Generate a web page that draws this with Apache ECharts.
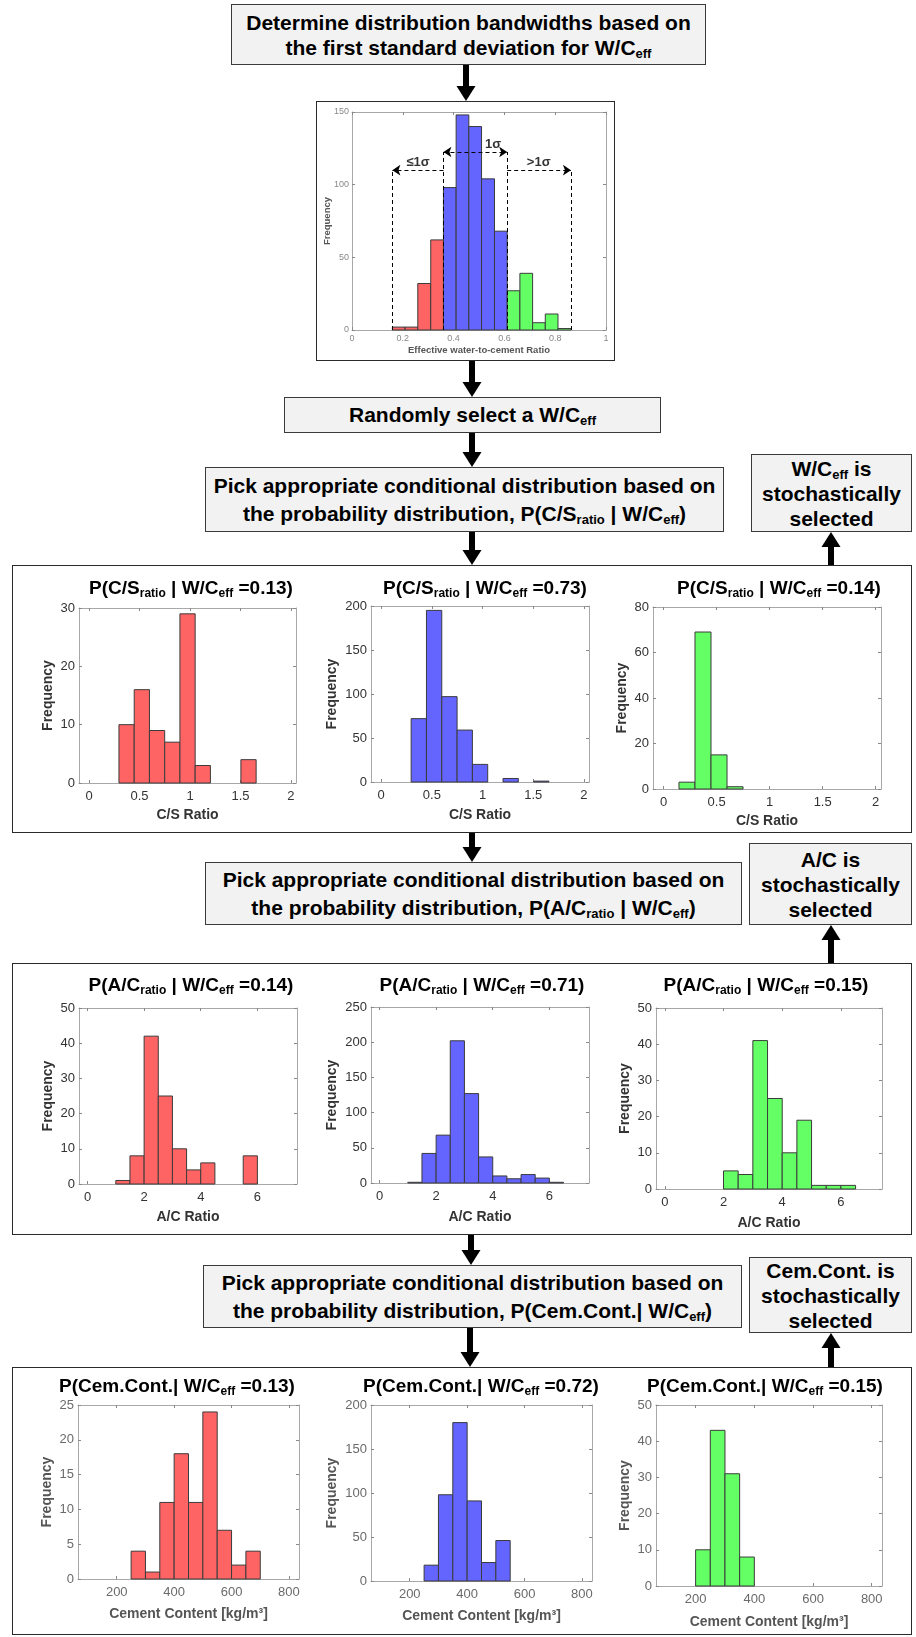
<!DOCTYPE html>
<html lang="en">
<head>
<meta charset="UTF-8">
<title>Conditional distribution sampling</title>
<script src="https://cdn.jsdelivr.net/npm/echarts@6.0.0/dist/echarts.min.js"></script>
<style>
  body { margin: 0; background: #fff; font-family: "Liberation Sans", Arial, sans-serif; }
  .page { position: relative; width: 916px; height: 1637px; overflow: hidden; }
  .box { position: absolute; box-sizing: border-box; background: #f2f2f2; border: 1.5px solid #3a3a3a;
         display: flex; flex-direction: column; align-items: center; justify-content: center;
         font-weight: bold; font-size: 21px; color: #000; text-align: center; white-space: nowrap; }
  .box sub { font-size: 13px; vertical-align: -3px; line-height: 0; }
  .panel { position: absolute; box-sizing: border-box; background: #fff; border: 1.5px solid #2a2a2a; }
  .ttl { position: absolute; width: 320px; text-align: center; font-weight: bold; font-size: 19px;
         line-height: 22px; white-space: nowrap; z-index: 3; color: #000; }
  .ttl sub { font-size: 12px; vertical-align: -3px; line-height: 0; }
  #chart { position: absolute; left: 0; top: 0; width: 916px; height: 1637px; z-index: 2; }
  #arrows { position: absolute; left: 0; top: 0; z-index: 1; }
</style>
</head>
<body>
<div class="page">
  <!-- flow boxes -->
  <div class="box" style="left:231px;top:4px;width:475px;height:61px;line-height:25px;">
    <div>Determine distribution bandwidths based on</div>
    <div>the first standard deviation for W/C<sub>eff</sub></div>
  </div>
  <div class="panel" style="left:316px;top:101px;width:299px;height:260px;"></div>

  <div class="box" style="left:284px;top:397px;width:377px;height:36px;">
    <div>Randomly select a W/C<sub>eff</sub></div>
  </div>

  <div class="box" style="left:205px;top:467px;width:519px;height:65px;line-height:28px;">
    <div>Pick appropriate conditional distribution based on</div>
    <div>the probability distribution, P(C/S<sub>ratio</sub> | W/C<sub>eff</sub>)</div>
  </div>
  <div class="box" style="left:751px;top:454px;width:161px;height:78px;line-height:25px;">
    <div>W/C<sub>eff</sub> is</div><div>stochastically</div><div>selected</div>
  </div>
  <div class="panel" style="left:12px;top:565px;width:900px;height:268px;"></div>

  <div class="box" style="left:205px;top:862px;width:537px;height:63px;line-height:28px;">
    <div>Pick appropriate conditional distribution based on</div>
    <div>the probability distribution, P(A/C<sub>ratio</sub> | W/C<sub>eff</sub>)</div>
  </div>
  <div class="box" style="left:749px;top:843px;width:163px;height:82px;line-height:25px;">
    <div>A/C is</div><div>stochastically</div><div>selected</div>
  </div>
  <div class="panel" style="left:12px;top:963px;width:900px;height:272px;"></div>

  <div class="box" style="left:203px;top:1265px;width:539px;height:63px;line-height:28px;">
    <div>Pick appropriate conditional distribution based on</div>
    <div>the probability distribution, P(Cem.Cont.| W/C<sub>eff</sub>)</div>
  </div>
  <div class="box" style="left:749px;top:1257px;width:163px;height:76px;line-height:25px;">
    <div>Cem.Cont. is</div><div>stochastically</div><div>selected</div>
  </div>
  <div class="panel" style="left:12px;top:1367px;width:900px;height:268px;"></div>

  <!-- histogram titles -->
  <div class="ttl" style="left:31px;top:577px;">P(C/S<sub>ratio</sub> | W/C<sub>eff</sub> =0.13)</div>
  <div class="ttl" style="left:325px;top:577px;">P(C/S<sub>ratio</sub> | W/C<sub>eff</sub> =0.73)</div>
  <div class="ttl" style="left:619px;top:577px;">P(C/S<sub>ratio</sub> | W/C<sub>eff</sub> =0.14)</div>
  <div class="ttl" style="left:31px;top:974px;">P(A/C<sub>ratio</sub> | W/C<sub>eff</sub> =0.14)</div>
  <div class="ttl" style="left:322px;top:974px;">P(A/C<sub>ratio</sub> | W/C<sub>eff</sub> =0.71)</div>
  <div class="ttl" style="left:606px;top:974px;">P(A/C<sub>ratio</sub> | W/C<sub>eff</sub> =0.15)</div>
  <div class="ttl" style="left:17px;top:1375px;">P(Cem.Cont.| W/C<sub>eff</sub> =0.13)</div>
  <div class="ttl" style="left:321px;top:1375px;">P(Cem.Cont.| W/C<sub>eff</sub> =0.72)</div>
  <div class="ttl" style="left:605px;top:1375px;">P(Cem.Cont.| W/C<sub>eff</sub> =0.15)</div>

  <svg id="arrows" width="916" height="1637"></svg>
  <div id="chart"></div>
</div>
<script>
  // ---- data ----
  // effective water-to-cement ratio, all samples
  const wcEdges = [0.159, 0.209, 0.259, 0.310, 0.360, 0.410, 0.460, 0.510, 0.561, 0.611, 0.661, 0.711, 0.761, 0.811, 0.862];
  const wcCounts = [2, 2, 32, 62, 98, 148, 140, 104, 68, 27, 39, 5, 11, 1];
  const wcTicks = [0, 0.2, 0.4, 0.6, 0.8, 1];
  const sigmaEdges = [0.159, 0.360, 0.611, 0.862];
  const sigmaNames = ['≤1σ', '1σ', '>1σ'];

  // C/S ratio given W/C_eff = 0.13 / 0.73 / 0.14
  const csEdges = [0.145, 0.296, 0.447, 0.598, 0.749, 0.900, 1.051, 1.202, 1.353, 1.504, 1.655];
  const csLow = [0, 10, 16, 9, 7, 29, 3, 0, 0, 4];
  const csMid = [0, 72, 195, 97, 59, 20, 0, 4, 0, 1];
  const csHigh = [3, 69, 15, 1, 0, 0, 0, 0, 0, 0];
  const csTicks = [0, 0.5, 1, 1.5, 2];

  // A/C ratio given W/C_eff = 0.14 / 0.71 / 0.15
  const acEdges = [1.0, 1.5, 2.0, 2.5, 3.0, 3.5, 4.0, 4.5, 5.0, 5.5, 6.0, 6.5];
  const acLow = [1, 8, 42, 25, 10, 4, 6, 0, 0, 8, 0];
  const acMid = [1, 42, 68, 202, 127, 37, 10, 6, 12, 7, 1];
  const acHigh = [0, 0, 5, 4, 41, 25, 10, 19, 1, 1, 1];
  const acTicks = [0, 2, 4, 6];

  // cement content given W/C_eff = 0.13 / 0.72 / 0.15
  const cemEdges = [200, 250, 300, 350, 400, 450, 500, 550, 600, 650, 700];
  const cemLow = [0, 4, 1, 11, 18, 11, 24, 7, 2, 4];
  const cemMid = [0, 18, 98, 180, 91, 21, 46, 0, 0, 0];
  const cemHigh = [10, 43, 31, 8, 0, 0, 0, 0, 0, 0];
  const cemTicks = [200, 400, 600, 800];

  const RED = '#ff6464', BLUE = '#6464ff', GREEN = '#64ff64';
  const FONT = '"Liberation Sans", Arial, sans-serif';

  // ---- flow arrows (x, from y, to y) ----
  const arrows = [
    [466, 65, 101], [472, 361, 397], [472, 433, 467], [472, 532, 565], [831, 565, 532],
    [472, 833, 862], [831, 963, 925], [471, 1235, 1265], [831, 1367, 1333], [470, 1328, 1367]
  ];
  const svg = document.getElementById('arrows');
  let s = '';
  arrows.forEach(([x, y0, y1]) => {
    const dir = y1 > y0 ? 1 : -1;
    const base = y1 - dir * 15;
    s += `<rect x="${x - 3}" y="${Math.min(y0, base)}" width="6" height="${Math.abs(base - y0)}" fill="#000"/>`;
    s += `<polygon points="${x - 9.5},${base} ${x + 9.5},${base} ${x},${y1}" fill="#000"/>`;
  });
  svg.innerHTML = s;

  // ---- chart layout: grid [left, top, width, height] ----
  const layout = [
    { g: [352, 112, 254, 218], x: [0, 1], ticks: wcTicks, y: [150, 50], xName: 'Effective water-to-cement Ratio', yGap: 20, xGap: 15, small: true },
    { g: [79, 608, 217, 175], x: [-0.1, 2.05], ticks: csTicks, y: [30, 10], xName: 'C/S Ratio', yGap: 24, xGap: 25 },
    { g: [371, 606, 218, 176], x: [-0.1, 2.05], ticks: csTicks, y: [200, 50], xName: 'C/S Ratio', yGap: 32, xGap: 26 },
    { g: [653, 607, 228, 182], x: [-0.1, 2.05], ticks: csTicks, y: [80, 20], xName: 'C/S Ratio', yGap: 24, xGap: 25 },
    { g: [79, 1008, 218, 176], x: [-0.3, 7.4], ticks: acTicks, y: [50, 10], xName: 'A/C Ratio', yGap: 24, xGap: 26 },
    { g: [371, 1007, 218, 176], x: [-0.3, 7.4], ticks: acTicks, y: [250, 50], xName: 'A/C Ratio', yGap: 32, xGap: 27 },
    { g: [656, 1008, 226, 181], x: [-0.3, 7.4], ticks: acTicks, y: [50, 10], xName: 'A/C Ratio', yGap: 24, xGap: 27 },
    { g: [78, 1405, 221, 174], x: [65, 835], ticks: cemTicks, y: [25, 5], xName: 'Cement Content [kg/m³]', yGap: 24, xGap: 28, light: true },
    { g: [371, 1405, 221, 176], x: [65, 835], ticks: cemTicks, y: [200, 50], xName: 'Cement Content [kg/m³]', yGap: 32, xGap: 28, light: true },
    { g: [656, 1405, 226, 181], x: [65, 835], ticks: cemTicks, y: [50, 10], xName: 'Cement Content [kg/m³]', yGap: 24, xGap: 29, light: true }
  ];

  const grid = [], xAxis = [], yAxis = [], series = [];
  layout.forEach((p, i) => {
    const labSize = p.small ? 9 : 13;
    const labColor = p.small ? '#888' : (p.light ? '#6a6a6a' : '#333');
    const nameStyle = { fontFamily: FONT, fontWeight: 'bold', fontSize: p.small ? 9.5 : 14, color: p.small ? '#555' : (p.light ? '#555' : '#333') };
    const line = { show: true, onZero: false, lineStyle: { color: '#a8a8a8', width: 1 } };
    const tick = { show: true, inside: true, length: 3, lineStyle: { color: '#888' } };
    grid.push({ left: p.g[0], top: p.g[1], width: p.g[2], height: p.g[3], outerBoundsMode: 'none' });
    const xBase = { type: 'value', gridIndex: i, min: p.x[0], max: p.x[1], splitLine: { show: false }, axisLine: line };
    xAxis.push(Object.assign({}, xBase, {
      position: 'bottom', name: p.xName, nameLocation: 'middle', nameGap: p.xGap, nameTextStyle: nameStyle, nameMoveOverlap: false,
      axisTick: Object.assign({ customValues: p.ticks }, tick),
      axisLabel: { customValues: p.ticks, fontFamily: FONT, fontSize: labSize, color: labColor, margin: p.small ? 4 : 7 }
    }));
    xAxis.push(Object.assign({}, xBase, {
      position: 'top', axisTick: Object.assign({ customValues: p.ticks }, tick), axisLabel: { show: false }
    }));
    const yBase = { type: 'value', gridIndex: i, min: 0, max: p.y[0], interval: p.y[1], splitLine: { show: false }, axisLine: line, axisTick: tick };
    yAxis.push(Object.assign({}, yBase, {
      position: 'left', name: 'Frequency', nameLocation: 'middle', nameGap: p.yGap, nameRotate: 90, nameTextStyle: nameStyle, nameMoveOverlap: false,
      axisLabel: { fontFamily: FONT, fontSize: labSize, color: labColor, margin: p.small ? 3 : 4 }
    }));
    yAxis.push(Object.assign({}, yBase, { position: 'right', axisLabel: { show: false } }));
  });

  function bins(edges, counts) {
    return counts.map((c, i) => [edges[i], edges[i + 1], c]).filter(d => d[2] > 0);
  }
  function hist(panel, data, color) {
    return {
      type: 'custom', xAxisIndex: panel * 2, yAxisIndex: panel * 2, silent: true,
      encode: { x: [0, 1], y: 2 }, data: data,
      renderItem: (params, api) => {
        const a = api.coord([api.value(0), api.value(2)]);
        const b = api.coord([api.value(1), 0]);
        return { type: 'rect', shape: { x: a[0], y: a[1], width: b[0] - a[0], height: b[1] - a[1] },
                 style: { fill: color, stroke: '#3c3c3c', lineWidth: 1 } };
      }
    };
  }

  // top histogram, coloured by standard deviation band
  const wcBins = bins(wcEdges, wcCounts);
  const bandColors = [RED, BLUE, GREEN];
  bandColors.forEach((c, k) => {
    series.push(hist(0, wcBins.filter(d => d[0] >= sigmaEdges[k] - 1e-6 && d[1] <= sigmaEdges[k + 1] + 1e-6), c));
  });

  // band annotations: dashed bounds and arrows
  const outerY = 110, innerY = 122.5;
  const dashed = { type: [4, 3], color: '#000', width: 1 };
  series.push({
    type: 'scatter', xAxisIndex: 0, yAxisIndex: 0, silent: true, symbolSize: 0,
    data: [[0.26, outerY + 1, sigmaNames[0]], [0.555, innerY + 1, sigmaNames[1]], [0.735, outerY + 1, sigmaNames[2]]],
    label: { show: true, position: 'top', distance: 0, formatter: d => d.value[2], fontFamily: FONT, fontWeight: 'bold', fontSize: 13, color: '#000' },
    markLine: {
      silent: true, symbolSize: 8, animation: false, label: { show: false }, lineStyle: dashed,
      data: [
        [{ coord: [sigmaEdges[0], 0], symbol: 'none' }, { coord: [sigmaEdges[0], outerY], symbol: 'none' }],
        [{ coord: [sigmaEdges[1], 0], symbol: 'none' }, { coord: [sigmaEdges[1], innerY], symbol: 'none' }],
        [{ coord: [sigmaEdges[2], 0], symbol: 'none' }, { coord: [sigmaEdges[2], innerY], symbol: 'none' }],
        [{ coord: [sigmaEdges[3], 0], symbol: 'none' }, { coord: [sigmaEdges[3], outerY], symbol: 'none' }],
        [{ coord: [sigmaEdges[1], outerY], symbol: 'none' }, { coord: [sigmaEdges[0], outerY], symbol: 'arrow' }],
        [{ coord: [sigmaEdges[1], innerY], symbol: 'arrow' }, { coord: [sigmaEdges[2], innerY], symbol: 'arrow' }],
        [{ coord: [sigmaEdges[2], outerY], symbol: 'none' }, { coord: [sigmaEdges[3], outerY], symbol: 'arrow' }]
      ]
    }
  });

  series.push(hist(1, bins(csEdges, csLow), RED));
  series.push(hist(2, bins(csEdges, csMid), BLUE));
  series.push(hist(3, bins(csEdges, csHigh), GREEN));
  series.push(hist(4, bins(acEdges, acLow), RED));
  series.push(hist(5, bins(acEdges, acMid), BLUE));
  series.push(hist(6, bins(acEdges, acHigh), GREEN));
  series.push(hist(7, bins(cemEdges, cemLow), RED));
  series.push(hist(8, bins(cemEdges, cemMid), BLUE));
  series.push(hist(9, bins(cemEdges, cemHigh), GREEN));

  const chart = echarts.init(document.getElementById('chart'), null, { renderer: 'canvas' });
  chart.setOption({ animation: false, backgroundColor: 'transparent', grid, xAxis, yAxis, series });
</script>
</body>
</html>
